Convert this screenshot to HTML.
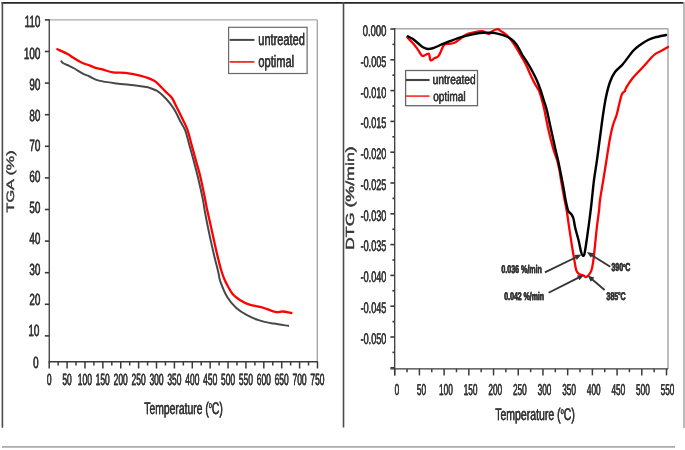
<!DOCTYPE html>
<html><head><meta charset="utf-8"><style>
html,body{margin:0;padding:0;background:#fff;width:685px;height:450px;overflow:hidden}
svg{display:block;font-family:"Liberation Sans", sans-serif;text-rendering:geometricPrecision;filter:blur(0.55px);}
</style></head><body>
<svg width="685" height="450" viewBox="0 0 685 450">
<rect width="685" height="450" fill="#fff"/>
<line x1="1.50" y1="2.80" x2="684.00" y2="2.80" stroke="#262626" stroke-width="1.8"/>
<line x1="2.40" y1="2.00" x2="2.40" y2="427.80" stroke="#4c4c4c" stroke-width="1.6"/>
<line x1="343.50" y1="2.00" x2="343.50" y2="427.60" stroke="#4c4c4c" stroke-width="1.6"/>
<line x1="684.00" y1="2.00" x2="684.00" y2="428.00" stroke="#aaa" stroke-width="1.6"/>
<line x1="2.00" y1="446.90" x2="675.00" y2="446.90" stroke="#aaa" stroke-width="1.8"/>
<line x1="49.25" y1="19.90" x2="317.30" y2="19.90" stroke="#a8a8a8" stroke-width="1.4"/>
<line x1="317.30" y1="19.90" x2="317.30" y2="361.80" stroke="#a8a8a8" stroke-width="1.4"/>
<line x1="49.25" y1="19.30" x2="49.25" y2="362.40" stroke="#3a3a3a" stroke-width="1.3"/>
<line x1="44.85" y1="335.90" x2="49.25" y2="335.90" stroke="#3a3a3a" stroke-width="1.6"/>
<line x1="44.85" y1="304.30" x2="49.25" y2="304.30" stroke="#3a3a3a" stroke-width="1.6"/>
<line x1="44.85" y1="272.70" x2="49.25" y2="272.70" stroke="#3a3a3a" stroke-width="1.6"/>
<line x1="44.85" y1="241.10" x2="49.25" y2="241.10" stroke="#3a3a3a" stroke-width="1.6"/>
<line x1="44.85" y1="209.50" x2="49.25" y2="209.50" stroke="#3a3a3a" stroke-width="1.6"/>
<line x1="44.85" y1="177.90" x2="49.25" y2="177.90" stroke="#3a3a3a" stroke-width="1.6"/>
<line x1="44.85" y1="146.30" x2="49.25" y2="146.30" stroke="#3a3a3a" stroke-width="1.6"/>
<line x1="44.85" y1="114.70" x2="49.25" y2="114.70" stroke="#3a3a3a" stroke-width="1.6"/>
<line x1="44.85" y1="83.10" x2="49.25" y2="83.10" stroke="#3a3a3a" stroke-width="1.6"/>
<line x1="44.85" y1="51.50" x2="49.25" y2="51.50" stroke="#3a3a3a" stroke-width="1.6"/>
<line x1="44.85" y1="19.90" x2="49.25" y2="19.90" stroke="#3a3a3a" stroke-width="1.6"/>
<line x1="48.65" y1="361.80" x2="317.90" y2="361.80" stroke="#3a3a3a" stroke-width="1.4"/>
<line x1="49.20" y1="361.80" x2="49.20" y2="368.50" stroke="#3a3a3a" stroke-width="1.5"/>
<line x1="58.14" y1="361.80" x2="58.14" y2="365.50" stroke="#3a3a3a" stroke-width="1.5"/>
<line x1="67.09" y1="361.80" x2="67.09" y2="368.50" stroke="#3a3a3a" stroke-width="1.5"/>
<line x1="76.03" y1="361.80" x2="76.03" y2="365.50" stroke="#3a3a3a" stroke-width="1.5"/>
<line x1="84.97" y1="361.80" x2="84.97" y2="368.50" stroke="#3a3a3a" stroke-width="1.5"/>
<line x1="93.91" y1="361.80" x2="93.91" y2="365.50" stroke="#3a3a3a" stroke-width="1.5"/>
<line x1="102.86" y1="361.80" x2="102.86" y2="368.50" stroke="#3a3a3a" stroke-width="1.5"/>
<line x1="111.80" y1="361.80" x2="111.80" y2="365.50" stroke="#3a3a3a" stroke-width="1.5"/>
<line x1="120.74" y1="361.80" x2="120.74" y2="368.50" stroke="#3a3a3a" stroke-width="1.5"/>
<line x1="129.68" y1="361.80" x2="129.68" y2="365.50" stroke="#3a3a3a" stroke-width="1.5"/>
<line x1="138.62" y1="361.80" x2="138.62" y2="368.50" stroke="#3a3a3a" stroke-width="1.5"/>
<line x1="147.57" y1="361.80" x2="147.57" y2="365.50" stroke="#3a3a3a" stroke-width="1.5"/>
<line x1="156.51" y1="361.80" x2="156.51" y2="368.50" stroke="#3a3a3a" stroke-width="1.5"/>
<line x1="165.45" y1="361.80" x2="165.45" y2="365.50" stroke="#3a3a3a" stroke-width="1.5"/>
<line x1="174.40" y1="361.80" x2="174.40" y2="368.50" stroke="#3a3a3a" stroke-width="1.5"/>
<line x1="183.34" y1="361.80" x2="183.34" y2="365.50" stroke="#3a3a3a" stroke-width="1.5"/>
<line x1="192.28" y1="361.80" x2="192.28" y2="368.50" stroke="#3a3a3a" stroke-width="1.5"/>
<line x1="201.22" y1="361.80" x2="201.22" y2="365.50" stroke="#3a3a3a" stroke-width="1.5"/>
<line x1="210.17" y1="361.80" x2="210.17" y2="368.50" stroke="#3a3a3a" stroke-width="1.5"/>
<line x1="219.11" y1="361.80" x2="219.11" y2="365.50" stroke="#3a3a3a" stroke-width="1.5"/>
<line x1="228.05" y1="361.80" x2="228.05" y2="368.50" stroke="#3a3a3a" stroke-width="1.5"/>
<line x1="236.99" y1="361.80" x2="236.99" y2="365.50" stroke="#3a3a3a" stroke-width="1.5"/>
<line x1="245.94" y1="361.80" x2="245.94" y2="368.50" stroke="#3a3a3a" stroke-width="1.5"/>
<line x1="254.88" y1="361.80" x2="254.88" y2="365.50" stroke="#3a3a3a" stroke-width="1.5"/>
<line x1="263.82" y1="361.80" x2="263.82" y2="368.50" stroke="#3a3a3a" stroke-width="1.5"/>
<line x1="272.76" y1="361.80" x2="272.76" y2="365.50" stroke="#3a3a3a" stroke-width="1.5"/>
<line x1="281.71" y1="361.80" x2="281.71" y2="368.50" stroke="#3a3a3a" stroke-width="1.5"/>
<line x1="290.65" y1="361.80" x2="290.65" y2="365.50" stroke="#3a3a3a" stroke-width="1.5"/>
<line x1="299.59" y1="361.80" x2="299.59" y2="368.50" stroke="#3a3a3a" stroke-width="1.5"/>
<line x1="308.53" y1="361.80" x2="308.53" y2="365.50" stroke="#3a3a3a" stroke-width="1.5"/>
<line x1="317.48" y1="361.80" x2="317.48" y2="368.50" stroke="#3a3a3a" stroke-width="1.5"/>
<rect x="228.6" y="27.3" width="78.5" height="46.2" fill="none" stroke="#6a6a6a" stroke-width="1.2"/>
<line x1="229.60" y1="39.90" x2="254.40" y2="39.90" stroke="#484848" stroke-width="2.0"/>
<line x1="229.60" y1="61.90" x2="254.40" y2="61.90" stroke="#ff2a2a" stroke-width="1.8"/>
<path d="M61.40,61.30 C61.67,61.58 62.03,62.38 63.00,63.00 C63.97,63.62 65.30,64.08 67.20,65.00 C69.10,65.92 71.87,67.10 74.40,68.50 C76.93,69.90 79.88,72.07 82.40,73.40 C84.92,74.73 86.73,75.30 89.50,76.50 C92.27,77.70 94.50,79.45 99.00,80.60 C103.50,81.75 110.67,82.63 116.50,83.40 C122.33,84.17 129.03,84.62 134.00,85.20 C138.97,85.78 143.63,86.43 146.30,86.90 C148.97,87.37 148.27,87.37 150.00,88.00 C151.73,88.63 154.48,89.37 156.70,90.70 C158.92,92.03 161.08,93.90 163.30,96.00 C165.52,98.10 168.00,100.75 170.00,103.30 C172.00,105.85 173.52,108.18 175.30,111.30 C177.08,114.42 179.03,118.77 180.70,122.00 C182.37,125.23 183.78,126.58 185.30,130.70 C186.82,134.82 188.32,141.37 189.80,146.70 C191.28,152.03 192.72,157.08 194.20,162.70 C195.68,168.32 197.27,174.33 198.70,180.40 C200.13,186.47 201.75,193.80 202.80,199.10 C203.85,204.40 203.90,206.32 205.00,212.20 C206.10,218.08 207.92,227.37 209.40,234.40 C210.88,241.43 212.42,248.10 213.90,254.40 C215.38,260.70 217.23,267.72 218.30,272.20 C219.37,276.68 218.78,277.12 220.30,281.30 C221.82,285.48 224.73,292.85 227.40,297.30 C230.07,301.75 233.03,305.03 236.30,308.00 C239.57,310.97 243.15,313.03 247.00,315.10 C250.85,317.17 254.97,318.98 259.40,320.40 C263.83,321.82 268.80,322.70 273.60,323.60 C278.40,324.50 285.77,325.43 288.20,325.80" fill="none" stroke="#484848" stroke-width="2.0" stroke-linejoin="round" stroke-linecap="round"/>
<path d="M57.30,49.20 C58.95,49.97 64.50,52.37 67.20,53.80 C69.90,55.23 71.12,56.35 73.50,57.80 C75.88,59.25 78.83,61.23 81.50,62.50 C84.17,63.77 87.25,64.55 89.50,65.40 C91.75,66.25 92.83,66.93 95.00,67.60 C97.17,68.27 99.50,68.60 102.50,69.40 C105.50,70.20 109.20,71.82 113.00,72.40 C116.80,72.98 120.63,72.32 125.30,72.90 C129.97,73.48 136.25,74.62 141.00,75.90 C145.75,77.18 150.52,78.80 153.80,80.60 C157.08,82.40 158.45,84.58 160.70,86.70 C162.95,88.82 165.42,91.42 167.30,93.30 C169.18,95.18 170.43,95.67 172.00,98.00 C173.57,100.33 175.03,103.97 176.70,107.30 C178.37,110.63 180.23,114.33 182.00,118.00 C183.77,121.67 185.70,124.82 187.30,129.30 C188.90,133.78 190.15,139.63 191.60,144.90 C193.05,150.17 194.53,155.57 196.00,160.90 C197.47,166.23 198.92,170.68 200.40,176.90 C201.88,183.12 203.77,192.68 204.90,198.20 C206.03,203.72 206.07,204.70 207.20,210.00 C208.33,215.30 210.22,223.33 211.70,230.00 C213.18,236.67 214.88,244.67 216.10,250.00 C217.32,255.33 218.08,258.42 219.00,262.00 C219.92,265.58 220.68,268.58 221.60,271.50 C222.52,274.42 223.43,277.00 224.50,279.50 C225.57,282.00 226.62,284.05 228.00,286.50 C229.38,288.95 230.82,291.95 232.80,294.20 C234.78,296.45 237.23,298.30 239.90,300.00 C242.57,301.70 245.25,303.22 248.80,304.40 C252.35,305.58 256.77,305.85 261.20,307.10 C265.63,308.35 271.85,311.17 275.40,311.90 C278.95,312.63 279.83,311.32 282.50,311.50 C285.17,311.68 289.92,312.75 291.40,313.00" fill="none" stroke="#ff0000" stroke-width="2.3" stroke-linejoin="round" stroke-linecap="round"/>
<line x1="394.70" y1="28.70" x2="668.00" y2="28.70" stroke="#a8a8a8" stroke-width="1.5"/>
<line x1="668.00" y1="28.70" x2="668.00" y2="368.90" stroke="#a8a8a8" stroke-width="1.5"/>
<line x1="394.70" y1="28.10" x2="394.70" y2="375.40" stroke="#3a3a3a" stroke-width="1.3"/>
<line x1="390.40" y1="29.00" x2="394.70" y2="29.00" stroke="#3a3a3a" stroke-width="1.6"/>
<line x1="392.40" y1="44.40" x2="394.70" y2="44.40" stroke="#3a3a3a" stroke-width="1.6"/>
<line x1="390.40" y1="59.80" x2="394.70" y2="59.80" stroke="#3a3a3a" stroke-width="1.6"/>
<line x1="392.40" y1="75.20" x2="394.70" y2="75.20" stroke="#3a3a3a" stroke-width="1.6"/>
<line x1="390.40" y1="90.60" x2="394.70" y2="90.60" stroke="#3a3a3a" stroke-width="1.6"/>
<line x1="392.40" y1="106.00" x2="394.70" y2="106.00" stroke="#3a3a3a" stroke-width="1.6"/>
<line x1="390.40" y1="121.40" x2="394.70" y2="121.40" stroke="#3a3a3a" stroke-width="1.6"/>
<line x1="392.40" y1="136.80" x2="394.70" y2="136.80" stroke="#3a3a3a" stroke-width="1.6"/>
<line x1="390.40" y1="152.20" x2="394.70" y2="152.20" stroke="#3a3a3a" stroke-width="1.6"/>
<line x1="392.40" y1="167.60" x2="394.70" y2="167.60" stroke="#3a3a3a" stroke-width="1.6"/>
<line x1="390.40" y1="183.00" x2="394.70" y2="183.00" stroke="#3a3a3a" stroke-width="1.6"/>
<line x1="392.40" y1="198.40" x2="394.70" y2="198.40" stroke="#3a3a3a" stroke-width="1.6"/>
<line x1="390.40" y1="213.80" x2="394.70" y2="213.80" stroke="#3a3a3a" stroke-width="1.6"/>
<line x1="392.40" y1="229.20" x2="394.70" y2="229.20" stroke="#3a3a3a" stroke-width="1.6"/>
<line x1="390.40" y1="244.60" x2="394.70" y2="244.60" stroke="#3a3a3a" stroke-width="1.6"/>
<line x1="392.40" y1="260.00" x2="394.70" y2="260.00" stroke="#3a3a3a" stroke-width="1.6"/>
<line x1="390.40" y1="275.40" x2="394.70" y2="275.40" stroke="#3a3a3a" stroke-width="1.6"/>
<line x1="392.40" y1="290.80" x2="394.70" y2="290.80" stroke="#3a3a3a" stroke-width="1.6"/>
<line x1="390.40" y1="306.20" x2="394.70" y2="306.20" stroke="#3a3a3a" stroke-width="1.6"/>
<line x1="392.40" y1="321.60" x2="394.70" y2="321.60" stroke="#3a3a3a" stroke-width="1.6"/>
<line x1="390.40" y1="337.00" x2="394.70" y2="337.00" stroke="#3a3a3a" stroke-width="1.6"/>
<line x1="392.40" y1="352.40" x2="394.70" y2="352.40" stroke="#3a3a3a" stroke-width="1.6"/>
<line x1="390.40" y1="367.80" x2="394.70" y2="367.80" stroke="#3a3a3a" stroke-width="1.6"/>
<line x1="390.40" y1="368.90" x2="668.00" y2="368.90" stroke="#3a3a3a" stroke-width="1.4"/>
<line x1="394.70" y1="368.90" x2="394.70" y2="375.40" stroke="#3a3a3a" stroke-width="1.5"/>
<line x1="407.06" y1="368.90" x2="407.06" y2="372.20" stroke="#3a3a3a" stroke-width="1.5"/>
<line x1="419.41" y1="368.90" x2="419.41" y2="375.40" stroke="#3a3a3a" stroke-width="1.5"/>
<line x1="431.76" y1="368.90" x2="431.76" y2="372.20" stroke="#3a3a3a" stroke-width="1.5"/>
<line x1="444.12" y1="368.90" x2="444.12" y2="375.40" stroke="#3a3a3a" stroke-width="1.5"/>
<line x1="456.47" y1="368.90" x2="456.47" y2="372.20" stroke="#3a3a3a" stroke-width="1.5"/>
<line x1="468.83" y1="368.90" x2="468.83" y2="375.40" stroke="#3a3a3a" stroke-width="1.5"/>
<line x1="481.19" y1="368.90" x2="481.19" y2="372.20" stroke="#3a3a3a" stroke-width="1.5"/>
<line x1="493.54" y1="368.90" x2="493.54" y2="375.40" stroke="#3a3a3a" stroke-width="1.5"/>
<line x1="505.89" y1="368.90" x2="505.89" y2="372.20" stroke="#3a3a3a" stroke-width="1.5"/>
<line x1="518.25" y1="368.90" x2="518.25" y2="375.40" stroke="#3a3a3a" stroke-width="1.5"/>
<line x1="530.61" y1="368.90" x2="530.61" y2="372.20" stroke="#3a3a3a" stroke-width="1.5"/>
<line x1="542.96" y1="368.90" x2="542.96" y2="375.40" stroke="#3a3a3a" stroke-width="1.5"/>
<line x1="555.31" y1="368.90" x2="555.31" y2="372.20" stroke="#3a3a3a" stroke-width="1.5"/>
<line x1="567.67" y1="368.90" x2="567.67" y2="375.40" stroke="#3a3a3a" stroke-width="1.5"/>
<line x1="580.02" y1="368.90" x2="580.02" y2="372.20" stroke="#3a3a3a" stroke-width="1.5"/>
<line x1="592.38" y1="368.90" x2="592.38" y2="375.40" stroke="#3a3a3a" stroke-width="1.5"/>
<line x1="604.74" y1="368.90" x2="604.74" y2="372.20" stroke="#3a3a3a" stroke-width="1.5"/>
<line x1="617.09" y1="368.90" x2="617.09" y2="375.40" stroke="#3a3a3a" stroke-width="1.5"/>
<line x1="629.44" y1="368.90" x2="629.44" y2="372.20" stroke="#3a3a3a" stroke-width="1.5"/>
<line x1="641.80" y1="368.90" x2="641.80" y2="375.40" stroke="#3a3a3a" stroke-width="1.5"/>
<line x1="654.15" y1="368.90" x2="654.15" y2="372.20" stroke="#3a3a3a" stroke-width="1.5"/>
<line x1="666.51" y1="368.90" x2="666.51" y2="375.40" stroke="#3a3a3a" stroke-width="1.5"/>
<rect x="405.6" y="70.5" width="71.9" height="35.2" fill="none" stroke="#666" stroke-width="1.3"/>
<line x1="405.80" y1="80.00" x2="429.60" y2="80.00" stroke="#444" stroke-width="2.1"/>
<line x1="405.80" y1="96.10" x2="429.60" y2="96.10" stroke="#ff3535" stroke-width="1.7"/>
<path d="M407.30,37.30 C408.17,38.22 410.85,40.92 412.50,42.80 C414.15,44.68 415.63,46.47 417.20,48.60 C418.77,50.73 420.53,54.53 421.90,55.60 C423.27,56.67 424.23,55.28 425.40,55.00 C426.57,54.72 428.03,53.02 428.90,53.90 C429.77,54.78 429.63,59.62 430.60,60.30 C431.57,60.98 433.33,58.78 434.70,58.00 C436.07,57.22 437.25,57.75 438.80,55.60 C440.35,53.45 442.35,47.05 444.00,45.10 C445.65,43.15 446.93,44.28 448.70,43.90 C450.47,43.52 452.65,43.67 454.60,42.80 C456.55,41.93 458.47,40.07 460.40,38.70 C462.33,37.33 464.25,35.58 466.20,34.60 C468.15,33.62 469.43,33.38 472.10,32.80 C474.77,32.22 479.45,30.90 482.20,31.10 C484.95,31.30 487.05,33.90 488.60,34.00 C490.15,34.10 490.03,32.52 491.50,31.70 C492.97,30.88 495.83,29.20 497.40,29.10 C498.97,29.00 499.35,30.08 500.90,31.10 C502.45,32.12 504.78,33.40 506.70,35.20 C508.62,37.00 510.68,39.60 512.40,41.90 C514.12,44.20 515.65,46.82 517.00,49.00 C518.35,51.18 519.00,52.37 520.50,55.00 C522.00,57.63 524.27,61.33 526.00,64.80 C527.73,68.27 529.37,72.53 530.90,75.80 C532.43,79.07 533.87,81.95 535.20,84.40 C536.53,86.85 537.88,88.27 538.90,90.50 C539.92,92.73 540.38,94.55 541.30,97.80 C542.22,101.05 543.28,104.97 544.40,110.00 C545.52,115.03 546.53,121.55 548.00,128.00 C549.47,134.45 551.70,143.37 553.20,148.70 C554.70,154.03 555.97,156.45 557.00,160.00 C558.03,163.55 558.73,166.67 559.40,170.00 C560.07,173.33 560.20,175.33 561.00,180.00 C561.80,184.67 563.27,193.00 564.20,198.00 C565.13,203.00 565.77,205.03 566.60,210.00 C567.43,214.97 568.32,221.87 569.20,227.80 C570.08,233.73 571.00,239.97 571.90,245.60 C572.80,251.23 573.87,257.47 574.60,261.60 C575.33,265.73 575.57,268.33 576.30,270.40 C577.03,272.47 578.10,273.25 579.00,274.00 C579.90,274.75 580.82,274.55 581.70,274.90 C582.58,275.25 583.57,275.72 584.30,276.10 C585.03,276.48 585.35,277.40 586.10,277.20 C586.85,277.00 587.92,276.03 588.80,274.90 C589.68,273.77 590.67,272.62 591.40,270.40 C592.13,268.18 592.60,265.73 593.20,261.60 C593.80,257.47 594.40,251.23 595.00,245.60 C595.60,239.97 596.12,233.73 596.80,227.80 C597.48,221.87 598.57,214.63 599.10,210.00 C599.63,205.37 599.30,205.00 600.00,200.00 C600.70,195.00 602.22,186.67 603.30,180.00 C604.38,173.33 605.40,166.88 606.50,160.00 C607.60,153.12 608.82,144.53 609.90,138.70 C610.98,132.87 611.88,128.95 613.00,125.00 C614.12,121.05 615.60,118.33 616.60,115.00 C617.60,111.67 618.10,108.50 619.00,105.00 C619.90,101.50 621.00,96.33 622.00,94.00 C623.00,91.67 624.33,92.00 625.00,91.00 C625.67,90.00 624.83,90.00 626.00,88.00 C627.17,86.00 629.17,82.50 632.00,79.00 C634.83,75.50 639.33,71.00 643.00,67.00 C646.67,63.00 651.00,57.67 654.00,55.00 C657.00,52.33 658.67,52.33 661.00,51.00 C663.33,49.67 666.83,47.67 668.00,47.00" fill="none" stroke="#ff0000" stroke-width="2.3" stroke-linejoin="round" stroke-linecap="round"/>
<path d="M407.80,36.30 C408.58,36.72 410.73,37.60 412.50,38.80 C414.27,40.00 416.65,42.08 418.40,43.50 C420.15,44.92 421.45,46.38 423.00,47.30 C424.55,48.22 425.95,48.88 427.70,49.00 C429.45,49.12 431.17,48.77 433.50,48.00 C435.83,47.23 438.97,45.53 441.70,44.40 C444.43,43.27 447.17,42.25 449.90,41.20 C452.63,40.15 455.25,39.03 458.10,38.10 C460.95,37.17 464.15,36.32 467.00,35.60 C469.85,34.88 472.47,34.27 475.20,33.80 C477.93,33.33 480.68,32.97 483.40,32.80 C486.12,32.63 488.98,32.63 491.50,32.80 C494.02,32.97 496.17,33.27 498.50,33.80 C500.83,34.33 503.35,35.08 505.50,36.00 C507.65,36.92 509.63,37.98 511.40,39.30 C513.17,40.62 514.75,42.20 516.10,43.90 C517.45,45.60 518.47,47.65 519.50,49.50 C520.53,51.35 521.02,52.87 522.30,55.00 C523.58,57.13 525.57,59.65 527.20,62.30 C528.83,64.95 530.47,67.83 532.10,70.90 C533.73,73.97 535.57,77.43 537.00,80.70 C538.43,83.97 539.57,87.23 540.70,90.50 C541.83,93.77 542.78,97.05 543.80,100.30 C544.82,103.55 545.77,105.93 546.80,110.00 C547.83,114.07 548.58,118.25 550.00,124.70 C551.42,131.15 553.93,142.65 555.30,148.70 C556.67,154.75 557.30,156.90 558.20,161.00 C559.10,165.10 559.85,169.02 560.70,173.30 C561.55,177.58 562.48,182.25 563.30,186.70 C564.12,191.15 564.78,196.00 565.60,200.00 C566.42,204.00 567.22,208.28 568.20,210.70 C569.18,213.12 570.62,213.17 571.50,214.50 C572.38,215.83 572.88,216.48 573.50,218.70 C574.12,220.92 574.37,224.25 575.20,227.80 C576.03,231.35 577.50,235.92 578.50,240.00 C579.50,244.08 580.50,249.68 581.20,252.30 C581.90,254.92 582.15,255.48 582.70,255.70 C583.25,255.92 583.83,256.22 584.50,253.60 C585.17,250.98 585.97,244.90 586.70,240.00 C587.43,235.10 588.13,230.03 588.90,224.20 C589.67,218.37 590.45,212.37 591.30,205.00 C592.15,197.63 593.05,187.50 594.00,180.00 C594.95,172.50 595.95,167.50 597.00,160.00 C598.05,152.50 599.30,142.50 600.30,135.00 C601.30,127.50 602.05,121.33 603.00,115.00 C603.95,108.67 604.83,102.50 606.00,97.00 C607.17,91.50 608.50,86.17 610.00,82.00 C611.50,77.83 612.83,75.00 615.00,72.00 C617.17,69.00 620.00,67.50 623.00,64.00 C626.00,60.50 630.17,54.17 633.00,51.00 C635.83,47.83 637.50,46.83 640.00,45.00 C642.50,43.17 645.50,41.27 648.00,40.00 C650.50,38.73 652.00,38.23 655.00,37.40 C658.00,36.57 664.17,35.40 666.00,35.00" fill="none" stroke="#000" stroke-width="2.4" stroke-linejoin="round" stroke-linecap="round"/>
<line x1="544.90" y1="272.40" x2="576.55" y2="257.01" stroke="#333" stroke-width="1.8"/><polygon points="581.5,254.6 576.8,259.9 574.5,255.0" fill="#333"/>
<line x1="610.30" y1="266.80" x2="591.45" y2="254.93" stroke="#333" stroke-width="1.8"/><polygon points="586.8,252.0 593.7,253.2 590.9,257.7" fill="#333"/>
<line x1="548.60" y1="292.70" x2="579.09" y2="277.37" stroke="#333" stroke-width="1.8"/><polygon points="584.0,274.9 579.4,280.2 577.0,275.4" fill="#333"/>
<line x1="604.60" y1="290.00" x2="591.77" y2="278.98" stroke="#333" stroke-width="1.8"/><polygon points="587.6,275.4 594.3,277.6 590.8,281.7" fill="#333"/>
<g fill="#363636" stroke="#363636" stroke-width="0.25">
<text transform="translate(33.08,368.25) scale(0.6100,1)" font-size="16.2" font-weight="normal">0</text><text transform="translate(33.18,368.25) scale(0.6100,1)" font-size="16.2" font-weight="normal">0</text>
<text transform="translate(28.29,336.07) scale(0.6100,1)" font-size="16.2" font-weight="normal">10</text><text transform="translate(28.39,336.07) scale(0.6100,1)" font-size="16.2" font-weight="normal">10</text>
<text transform="translate(29.29,305.29) scale(0.6100,1)" font-size="16.2" font-weight="normal">20</text><text transform="translate(29.39,305.29) scale(0.6100,1)" font-size="16.2" font-weight="normal">20</text>
<text transform="translate(29.29,274.51) scale(0.6100,1)" font-size="16.2" font-weight="normal">30</text><text transform="translate(29.39,274.51) scale(0.6100,1)" font-size="16.2" font-weight="normal">30</text>
<text transform="translate(29.29,243.73) scale(0.6100,1)" font-size="16.2" font-weight="normal">40</text><text transform="translate(29.39,243.73) scale(0.6100,1)" font-size="16.2" font-weight="normal">40</text>
<text transform="translate(29.29,212.95) scale(0.6100,1)" font-size="16.2" font-weight="normal">50</text><text transform="translate(29.39,212.95) scale(0.6100,1)" font-size="16.2" font-weight="normal">50</text>
<text transform="translate(29.29,182.17) scale(0.6100,1)" font-size="16.2" font-weight="normal">60</text><text transform="translate(29.39,182.17) scale(0.6100,1)" font-size="16.2" font-weight="normal">60</text>
<text transform="translate(29.29,151.39) scale(0.6100,1)" font-size="16.2" font-weight="normal">70</text><text transform="translate(29.39,151.39) scale(0.6100,1)" font-size="16.2" font-weight="normal">70</text>
<text transform="translate(29.29,120.61) scale(0.6100,1)" font-size="16.2" font-weight="normal">80</text><text transform="translate(29.39,120.61) scale(0.6100,1)" font-size="16.2" font-weight="normal">80</text>
<text transform="translate(29.29,89.83) scale(0.6100,1)" font-size="16.2" font-weight="normal">90</text><text transform="translate(29.39,89.83) scale(0.6100,1)" font-size="16.2" font-weight="normal">90</text>
<text transform="translate(23.80,59.05) scale(0.6100,1)" font-size="16.2" font-weight="normal">100</text><text transform="translate(23.90,59.05) scale(0.6100,1)" font-size="16.2" font-weight="normal">100</text>
<text transform="translate(24.53,27.35) scale(0.6100,1)" font-size="16.2" font-weight="normal">110</text><text transform="translate(24.63,27.35) scale(0.6100,1)" font-size="16.2" font-weight="normal">110</text>
<text transform="translate(46.81,384.65) scale(0.5200,1)" font-size="16.3" font-weight="normal">0</text><text transform="translate(46.91,384.65) scale(0.5200,1)" font-size="16.3" font-weight="normal">0</text>
<text transform="translate(62.30,384.65) scale(0.5200,1)" font-size="16.3" font-weight="normal">50</text><text transform="translate(62.40,384.65) scale(0.5200,1)" font-size="16.3" font-weight="normal">50</text>
<text transform="translate(77.72,384.65) scale(0.5200,1)" font-size="16.3" font-weight="normal">100</text><text transform="translate(77.82,384.65) scale(0.5200,1)" font-size="16.3" font-weight="normal">100</text>
<text transform="translate(95.60,384.65) scale(0.5200,1)" font-size="16.3" font-weight="normal">150</text><text transform="translate(95.70,384.65) scale(0.5200,1)" font-size="16.3" font-weight="normal">150</text>
<text transform="translate(113.59,384.65) scale(0.5200,1)" font-size="16.3" font-weight="normal">200</text><text transform="translate(113.69,384.65) scale(0.5200,1)" font-size="16.3" font-weight="normal">200</text>
<text transform="translate(131.48,384.65) scale(0.5200,1)" font-size="16.3" font-weight="normal">250</text><text transform="translate(131.58,384.65) scale(0.5200,1)" font-size="16.3" font-weight="normal">250</text>
<text transform="translate(149.41,384.65) scale(0.5200,1)" font-size="16.3" font-weight="normal">300</text><text transform="translate(149.51,384.65) scale(0.5200,1)" font-size="16.3" font-weight="normal">300</text>
<text transform="translate(167.30,384.65) scale(0.5200,1)" font-size="16.3" font-weight="normal">350</text><text transform="translate(167.40,384.65) scale(0.5200,1)" font-size="16.3" font-weight="normal">350</text>
<text transform="translate(185.24,384.65) scale(0.5200,1)" font-size="16.3" font-weight="normal">400</text><text transform="translate(185.34,384.65) scale(0.5200,1)" font-size="16.3" font-weight="normal">400</text>
<text transform="translate(203.12,384.65) scale(0.5200,1)" font-size="16.3" font-weight="normal">450</text><text transform="translate(203.22,384.65) scale(0.5200,1)" font-size="16.3" font-weight="normal">450</text>
<text transform="translate(220.93,384.65) scale(0.5200,1)" font-size="16.3" font-weight="normal">500</text><text transform="translate(221.03,384.65) scale(0.5200,1)" font-size="16.3" font-weight="normal">500</text>
<text transform="translate(238.81,384.65) scale(0.5200,1)" font-size="16.3" font-weight="normal">550</text><text transform="translate(238.91,384.65) scale(0.5200,1)" font-size="16.3" font-weight="normal">550</text>
<text transform="translate(256.67,384.65) scale(0.5200,1)" font-size="16.3" font-weight="normal">600</text><text transform="translate(256.77,384.65) scale(0.5200,1)" font-size="16.3" font-weight="normal">600</text>
<text transform="translate(274.56,384.65) scale(0.5200,1)" font-size="16.3" font-weight="normal">650</text><text transform="translate(274.66,384.65) scale(0.5200,1)" font-size="16.3" font-weight="normal">650</text>
<text transform="translate(292.44,384.65) scale(0.5200,1)" font-size="16.3" font-weight="normal">700</text><text transform="translate(292.54,384.65) scale(0.5200,1)" font-size="16.3" font-weight="normal">700</text>
<text transform="translate(310.33,384.65) scale(0.5200,1)" font-size="16.3" font-weight="normal">750</text><text transform="translate(310.43,384.65) scale(0.5200,1)" font-size="16.3" font-weight="normal">750</text>
<text transform="translate(144.25,413.80) scale(0.6173,1)" font-size="16.8" font-weight="normal">Temperature (<tspan font-size="9" dy="-6.2">o</tspan><tspan dy="6.2">C</tspan>)</text><text transform="translate(144.35,413.80) scale(0.6173,1)" font-size="16.8" font-weight="normal">Temperature (<tspan font-size="9" dy="-6.2">o</tspan><tspan dy="6.2">C</tspan>)</text>
<text transform="translate(258.27,45.30) scale(0.6632,1)" font-size="16.6" font-weight="normal">untreated</text><text transform="translate(258.37,45.30) scale(0.6632,1)" font-size="16.6" font-weight="normal">untreated</text>
<text transform="translate(258.33,67.10) scale(0.6673,1)" font-size="16.6" font-weight="normal">optimal</text><text transform="translate(258.43,67.10) scale(0.6673,1)" font-size="16.6" font-weight="normal">optimal</text>
<text transform="translate(13.80,212.40) rotate(-90) scale(1.0000,0.6600)" font-size="16.2" font-weight="normal" stroke-width="0.55">TGA (%)</text>
<text transform="translate(362.71,35.95) scale(0.6120,1)" font-size="15.4" font-weight="normal">0.000</text><text transform="translate(362.81,35.95) scale(0.6120,1)" font-size="15.4" font-weight="normal">0.000</text>
<text transform="translate(360.53,66.73) scale(0.5900,1)" font-size="15.4" font-weight="normal">-0.005</text><text transform="translate(360.63,66.73) scale(0.5900,1)" font-size="15.4" font-weight="normal">-0.005</text>
<text transform="translate(360.53,97.51) scale(0.5900,1)" font-size="15.4" font-weight="normal">-0.010</text><text transform="translate(360.63,97.51) scale(0.5900,1)" font-size="15.4" font-weight="normal">-0.010</text>
<text transform="translate(360.53,128.29) scale(0.5900,1)" font-size="15.4" font-weight="normal">-0.015</text><text transform="translate(360.63,128.29) scale(0.5900,1)" font-size="15.4" font-weight="normal">-0.015</text>
<text transform="translate(360.53,159.07) scale(0.5900,1)" font-size="15.4" font-weight="normal">-0.020</text><text transform="translate(360.63,159.07) scale(0.5900,1)" font-size="15.4" font-weight="normal">-0.020</text>
<text transform="translate(360.53,189.85) scale(0.5900,1)" font-size="15.4" font-weight="normal">-0.025</text><text transform="translate(360.63,189.85) scale(0.5900,1)" font-size="15.4" font-weight="normal">-0.025</text>
<text transform="translate(360.53,220.63) scale(0.5900,1)" font-size="15.4" font-weight="normal">-0.030</text><text transform="translate(360.63,220.63) scale(0.5900,1)" font-size="15.4" font-weight="normal">-0.030</text>
<text transform="translate(360.53,251.41) scale(0.5900,1)" font-size="15.4" font-weight="normal">-0.035</text><text transform="translate(360.63,251.41) scale(0.5900,1)" font-size="15.4" font-weight="normal">-0.035</text>
<text transform="translate(360.53,282.19) scale(0.5900,1)" font-size="15.4" font-weight="normal">-0.040</text><text transform="translate(360.63,282.19) scale(0.5900,1)" font-size="15.4" font-weight="normal">-0.040</text>
<text transform="translate(360.53,312.97) scale(0.5900,1)" font-size="15.4" font-weight="normal">-0.045</text><text transform="translate(360.63,312.97) scale(0.5900,1)" font-size="15.4" font-weight="normal">-0.045</text>
<text transform="translate(360.53,343.75) scale(0.5900,1)" font-size="15.4" font-weight="normal">-0.050</text><text transform="translate(360.63,343.75) scale(0.5900,1)" font-size="15.4" font-weight="normal">-0.050</text>
<text transform="translate(394.55,394.50) scale(0.5230,1)" font-size="15.8" font-weight="normal">0</text><text transform="translate(394.65,394.50) scale(0.5230,1)" font-size="15.8" font-weight="normal">0</text>
<text transform="translate(416.85,394.50) scale(0.5230,1)" font-size="15.8" font-weight="normal">50</text><text transform="translate(416.95,394.50) scale(0.5230,1)" font-size="15.8" font-weight="normal">50</text>
<text transform="translate(439.02,394.50) scale(0.5230,1)" font-size="15.8" font-weight="normal">100</text><text transform="translate(439.12,394.50) scale(0.5230,1)" font-size="15.8" font-weight="normal">100</text>
<text transform="translate(463.62,394.50) scale(0.5230,1)" font-size="15.8" font-weight="normal">150</text><text transform="translate(463.72,394.50) scale(0.5230,1)" font-size="15.8" font-weight="normal">150</text>
<text transform="translate(488.32,394.50) scale(0.5230,1)" font-size="15.8" font-weight="normal">200</text><text transform="translate(488.42,394.50) scale(0.5230,1)" font-size="15.8" font-weight="normal">200</text>
<text transform="translate(512.92,394.50) scale(0.5230,1)" font-size="15.8" font-weight="normal">250</text><text transform="translate(513.02,394.50) scale(0.5230,1)" font-size="15.8" font-weight="normal">250</text>
<text transform="translate(537.57,394.50) scale(0.5230,1)" font-size="15.8" font-weight="normal">300</text><text transform="translate(537.67,394.50) scale(0.5230,1)" font-size="15.8" font-weight="normal">300</text>
<text transform="translate(562.17,394.50) scale(0.5230,1)" font-size="15.8" font-weight="normal">350</text><text transform="translate(562.27,394.50) scale(0.5230,1)" font-size="15.8" font-weight="normal">350</text>
<text transform="translate(586.82,394.50) scale(0.5230,1)" font-size="15.8" font-weight="normal">400</text><text transform="translate(586.92,394.50) scale(0.5230,1)" font-size="15.8" font-weight="normal">400</text>
<text transform="translate(611.42,394.50) scale(0.5230,1)" font-size="15.8" font-weight="normal">450</text><text transform="translate(611.52,394.50) scale(0.5230,1)" font-size="15.8" font-weight="normal">450</text>
<text transform="translate(635.95,394.50) scale(0.5230,1)" font-size="15.8" font-weight="normal">500</text><text transform="translate(636.05,394.50) scale(0.5230,1)" font-size="15.8" font-weight="normal">500</text>
<text transform="translate(660.55,394.50) scale(0.5230,1)" font-size="15.8" font-weight="normal">550</text><text transform="translate(660.65,394.50) scale(0.5230,1)" font-size="15.8" font-weight="normal">550</text>
<text transform="translate(495.15,419.80) scale(0.6261,1)" font-size="16.8" font-weight="normal">Temperature (<tspan font-size="9" dy="-6.2">o</tspan><tspan dy="6.2">C</tspan>)</text><text transform="translate(495.25,419.80) scale(0.6261,1)" font-size="16.8" font-weight="normal">Temperature (<tspan font-size="9" dy="-6.2">o</tspan><tspan dy="6.2">C</tspan>)</text>
<text transform="translate(432.62,84.10) scale(0.7541,1)" font-size="13.5" font-weight="normal">untreated</text><text transform="translate(432.72,84.10) scale(0.7541,1)" font-size="13.5" font-weight="normal">untreated</text>
<text transform="translate(433.15,100.50) scale(0.7452,1)" font-size="13.5" font-weight="normal">optimal</text><text transform="translate(433.25,100.50) scale(0.7452,1)" font-size="13.5" font-weight="normal">optimal</text>
<text transform="translate(354.40,250.10) rotate(-90) scale(1.0010,0.6600)" font-size="17.8" font-weight="normal" stroke-width="0.6">DTG (%/min)</text>
<text transform="translate(501.35,273.40) scale(0.6258,1)" font-size="11.3" font-weight="bold" stroke-width="0.35">0.036 %/min</text><text transform="translate(501.45,273.40) scale(0.6258,1)" font-size="11.3" font-weight="bold" stroke-width="0.35">0.036 %/min</text>
<text transform="translate(504.25,300.40) scale(0.6206,1)" font-size="11.2" font-weight="bold" stroke-width="0.35">0.042 %/min</text><text transform="translate(504.35,300.40) scale(0.6206,1)" font-size="11.2" font-weight="bold" stroke-width="0.35">0.042 %/min</text>
<text transform="translate(611.31,270.90) scale(0.6172,1)" font-size="11.5" font-weight="bold" stroke-width="0.35">390<tspan font-size="5.6" dy="-4.3">o</tspan><tspan dy="4.3">C</tspan></text><text transform="translate(611.41,270.90) scale(0.6172,1)" font-size="11.5" font-weight="bold" stroke-width="0.35">390<tspan font-size="5.6" dy="-4.3">o</tspan><tspan dy="4.3">C</tspan></text>
<text transform="translate(606.31,299.50) scale(0.6451,1)" font-size="11.1" font-weight="bold" stroke-width="0.35">385<tspan font-size="5.6" dy="-4.3">o</tspan><tspan dy="4.3">C</tspan></text><text transform="translate(606.41,299.50) scale(0.6451,1)" font-size="11.1" font-weight="bold" stroke-width="0.35">385<tspan font-size="5.6" dy="-4.3">o</tspan><tspan dy="4.3">C</tspan></text>
</g>
</svg>
</body></html>
